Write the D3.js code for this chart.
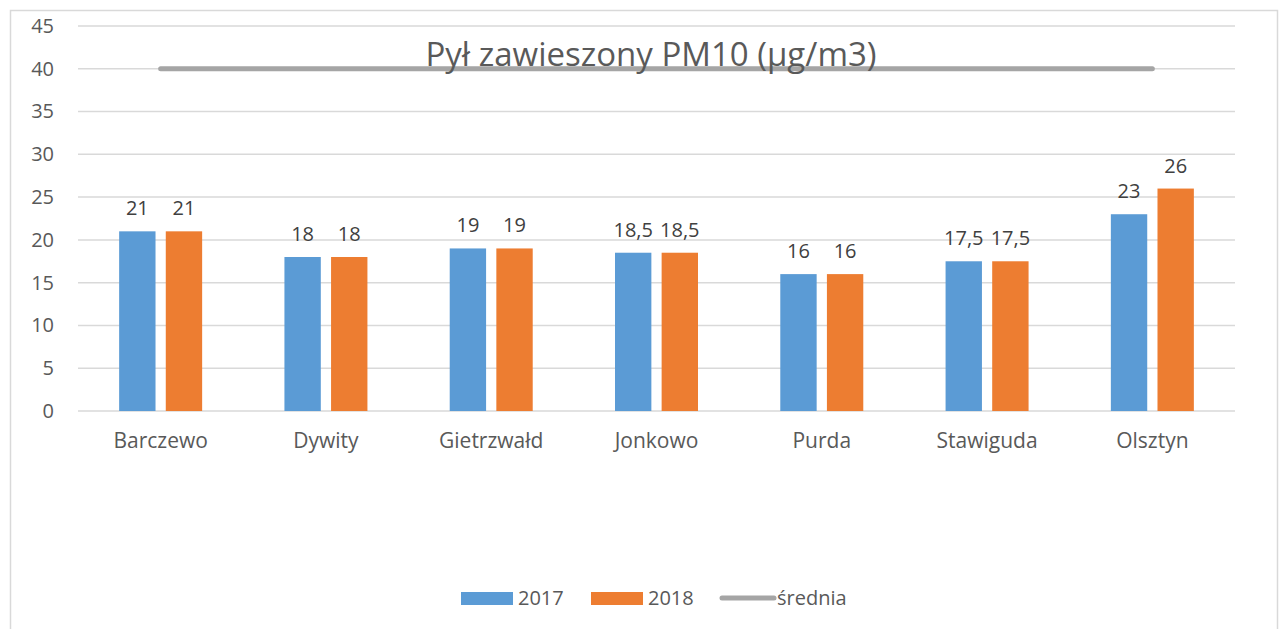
<!DOCTYPE html>
<html>
<head>
<meta charset="utf-8">
<script src="https://cdn.jsdelivr.net/npm/d3@7"></script>
<style>
  body { margin: 0; background: #fff; }
  svg { display: block; font-family: "Open Sans", sans-serif; }
</style>
</head>
<body>
<svg id="chart"></svg>
<script>
// chart data
var towns = ["Barczewo", "Dywity", "Gietrzwałd", "Jonkowo", "Purda", "Stawiguda", "Olsztyn"];
var values2017 = [21, 18, 19, 18.5, 16, 17.5, 23];
var values2018 = [21, 18, 19, 18.5, 16, 17.5, 26];
var average = [40, 40, 40, 40, 40, 40, 40];
var yTicks = [0, 5, 10, 15, 20, 25, 30, 35, 40, 45];
var seriesNames = ["2017", "2018", "średnia"];

var width = 1280, height = 629;
var margin = {left: 78, right: 45, top: 26, bottom: 218};

var colors = {blue: "#5B9BD5", orange: "#ED7D31", gray: "#A5A5A5", text: "#595959", label: "#404040"};

var svg = d3.select("#chart").attr("width", width).attr("height", height);

// outer chart border
svg.append("rect")
  .attr("x", 10.5).attr("y", 10.5)
  .attr("width", 1267).attr("height", 640)
  .attr("fill", "none").attr("stroke", "#D9D9D9").attr("stroke-width", 1.5);

var x = d3.scaleBand()
  .domain(towns)
  .range([margin.left, width - margin.right]);

var y = d3.scaleLinear()
  .domain([0, 45])
  .range([height - margin.bottom, margin.top]);

var x1 = d3.scaleBand()
  .domain(["2017", "2018"])
  .range([0, 83])
  .paddingInner(0.22);

var groupOffset = (x.bandwidth() - 83) / 2;

// gridlines
svg.append("g")
  .selectAll("line")
  .data(yTicks)
  .enter().append("line")
    .attr("x1", margin.left).attr("x2", width - margin.right)
    .attr("y1", function(d) { return y(d); })
    .attr("y2", function(d) { return y(d); })
    .attr("stroke", "#D9D9D9").attr("stroke-width", 1.5);

// y axis
var yAxis = svg.append("g")
  .attr("transform", "translate(" + margin.left + ",0)")
  .call(d3.axisLeft(y).tickValues(yTicks).tickSize(0).tickPadding(24));
yAxis.select(".domain").remove();
yAxis.selectAll("text")
  .attr("fill", colors.text)
  .style("font-size", "20px")
  .style("font-family", "'Open Sans', sans-serif");

// x axis labels
var xAxis = svg.append("g")
  .attr("transform", "translate(0," + y(0) + ")")
  .call(d3.axisBottom(x).tickSize(0).tickPadding(22));
xAxis.select(".domain").remove();
xAxis.selectAll("text")
  .attr("fill", colors.text)
  .style("font-size", "21px")
  .style("font-family", "'Open Sans', sans-serif");

function fmt(v) { return String(v).replace(".", ","); }

// bars
var groups = svg.append("g")
  .selectAll("g")
  .data(towns)
  .enter().append("g")
    .attr("transform", function(d) { return "translate(" + (x(d) + groupOffset) + ",0)"; });

var series = [
  {key: "2017", values: values2017, color: colors.blue},
  {key: "2018", values: values2018, color: colors.orange}
];

series.forEach(function(s) {
  groups.append("rect")
    .attr("x", x1(s.key))
    .attr("width", x1.bandwidth())
    .attr("y", function(d, i) { return y(s.values[i]); })
    .attr("height", function(d, i) { return y(0) - y(s.values[i]); })
    .attr("fill", s.color);

  groups.append("text")
    .attr("x", x1(s.key) + x1.bandwidth() / 2)
    .attr("y", function(d, i) { return y(s.values[i]) - 16; })
    .attr("text-anchor", "middle")
    .attr("fill", colors.label)
    .style("font-size", "20px")
    .text(function(d, i) { return fmt(s.values[i]); });
});

// average line
var line = d3.line()
  .x(function(d, i) { return x(towns[i]) + x.bandwidth() / 2; })
  .y(function(d) { return y(d); });

svg.append("path")
  .datum(average)
  .attr("d", line)
  .attr("fill", "none")
  .attr("stroke", colors.gray)
  .attr("stroke-width", 5)
  .attr("stroke-linecap", "round");

// title
svg.append("text")
  .attr("x", 651).attr("y", 66)
  .attr("text-anchor", "middle")
  .attr("fill", colors.text)
  .style("font-size", "33px")
  .text("Pył zawieszony PM10 (µg/m3)");

// legend
var legend = svg.append("g").attr("transform", "translate(461,598)");
var legendX = [0, 130, 259];
seriesNames.forEach(function(name, i) {
  var g = legend.append("g").attr("transform", "translate(" + legendX[i] + ",0)");
  if (i < 2) {
    g.append("rect")
      .attr("x", 0).attr("y", -6)
      .attr("width", 52).attr("height", 13)
      .attr("fill", i == 0 ? colors.blue : colors.orange);
  } else {
    g.append("line")
      .attr("x1", 2).attr("x2", 54)
      .attr("y1", 0).attr("y2", 0)
      .attr("stroke", colors.gray).attr("stroke-width", 5)
      .attr("stroke-linecap", "round");
  }
  g.append("text")
    .attr("x", 57).attr("y", 0)
    .attr("dy", "0.35em")
    .attr("fill", colors.text)
    .style("font-size", "20px")
    .text(name);
});
</script>
</body>
</html>
